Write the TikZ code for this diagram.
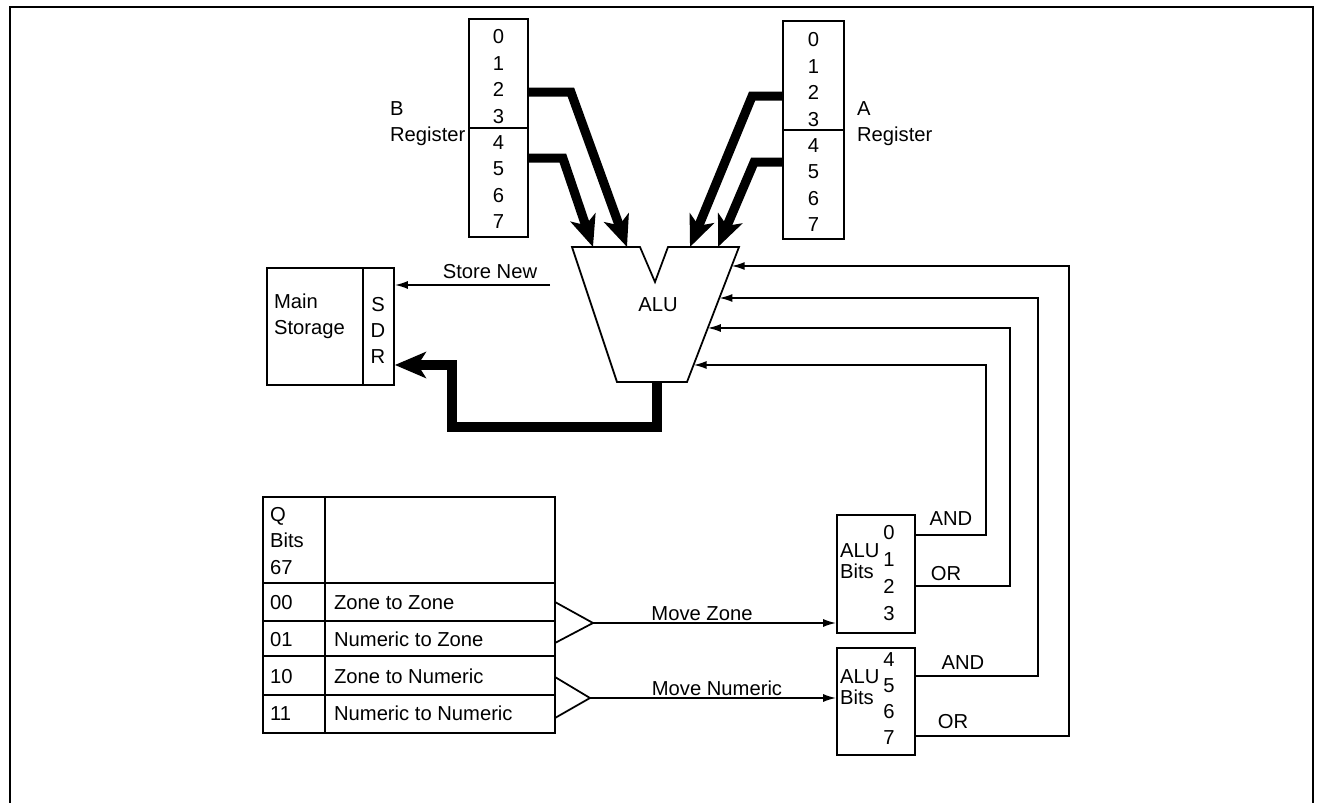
\documentclass[tikz,border=0pt]{standalone}
\usepackage{fontspec}
\setsansfont{Liberation Sans}
\usepackage{tikz}
\usetikzlibrary{arrows.meta, positioning, calc}

\begin{document}
\begin{tikzpicture}[x=0.02cm, y=-0.02cm,
  every node/.style={font=\sffamily\fontsize{11.5}{15}\selectfont}]
\tikzstyle{regbox}=[rectangle, draw, line width=1pt, minimum width=1.18cm,
  minimum height=4.36cm, inner sep=0pt]
\tikzstyle{bitbox}=[rectangle, draw, line width=1pt, minimum width=1.56cm, inner sep=0pt]
\tikzstyle{bus}=[line width=5.2pt, line join=miter,
  -{Stealth[length=0.62cm, width=0.52cm, inset=0.16cm]}]
\tikzstyle{feed}=[line width=0.9pt, -{Latex[length=0.26cm, width=0.16cm]}]
\tikzstyle{txt}=[inner sep=1pt, align=left]
\useasboundingbox (0,0) rectangle (1319,803);
% frame
\draw[line width=1.2pt] (10,815) -- (10,7) -- (1313,7) -- (1313,815);

% registers
\node[regbox] (breg) at (498.5,128) {};
\node[regbox, minimum width=1.22cm] (areg) at (813.5,130) {};
\draw[line width=1pt] (breg.west) -- (breg.east);
\draw[line width=1pt] (areg.west) -- (areg.east);
\foreach \i in {0,...,7} {
  \node (b\i) at (498.5,{37+26.4*\i}) {\i};
  \node (a\i) at (813.5,{40+26.4*\i}) {\i};
}
\node[txt, anchor=west] (blab) at (388,123.5) {B\\Register};
\node[txt, anchor=west] (alab) at (855,123.5) {A\\Register};

% ALU
\draw[line width=1pt] (572,247) -- (640,247) -- (655,282) -- (668,247) -- (739,247)
  -- (687,382) -- (617,382) -- cycle;
\node (alu) at (658,305) {ALU};
\coordinate (alu-b1) at (593,247);
\coordinate (alu-b2) at (627,247);
\coordinate (alu-a1) at (690,247);
\coordinate (alu-a2) at (718,247);
\coordinate (alu-in0) at (731.7,266);
\coordinate (alu-in1) at (719.4,298);
\coordinate (alu-in2) at (707.8,328);
\coordinate (alu-in3) at (693.6,365);
\coordinate (alu-out) at (657,382);

\draw[bus] ($(breg.north east)+(0,74)$) -- ++(42,0) -- (alu-b2);
\draw[bus] ($(breg.north east)+(0,140)$) -- ++(34,0) -- (alu-b1);
\draw[bus] ($(areg.north west)+(0,76)$) -- ++(-30,0) -- (alu-a1);
\draw[bus] ($(areg.north west)+(0,142)$) -- ++(-28,0) -- (alu-a2);

% main storage
\node[rectangle, draw, line width=1pt, minimum width=2.54cm, minimum height=2.34cm,
  inner sep=0pt] (ms) at (330.5,326.5) {};
\draw[line width=0.8pt] ($(ms.north east)+(-32,0)$) -- ($(ms.south east)+(-32,0)$);
\node[txt, anchor=west] (mslab) at (272,316.5) {Main\\Storage};
\node[txt, align=center] (sdr) at (378,330.5) {S\\D\\R};
\coordinate (sn) at (550,285);
\draw[feed] (sn) -- (ms.east |- sn);
\node (snlab) at (490,272) {Store New};
\draw[bus] (alu-out) -- (657,427) -- (452,427) -- (452,365) -- (ms.east |- 0,365);

% Q bits table
\draw[line width=1pt] (263,497) rectangle (555,733);
\foreach \y in {583,621,656,695}
  \draw[line width=1pt] (263,\y) -- (555,\y);
\draw[line width=1.2pt] (325,497) -- (325,733);
\node[txt, anchor=west] (qhead) at (268,541) {Q\\Bits\\67};
\foreach \c/\t [count=\k] in {00/Zone to Zone, 01/Numeric to Zone,
    10/Zone to Numeric, 11/Numeric to Numeric} {
  \node[txt, anchor=west] (q\k) at (268,{603+36.7*(\k-1)}) {\c};
  \node[txt, anchor=west] (m\k) at (332,{603+36.7*(\k-1)}) {\t};
}
\draw[line width=1pt] (555,602) -- (593,623) coordinate (mz) -- (555,643);
\draw[line width=1pt] (555,677) -- (590,698) coordinate (mn) -- (555,718);

% ALU bits
\node[bitbox, minimum height=2.36cm] (bits1) at (876,574) {};
\node[bitbox, minimum height=2.14cm] (bits2) at (876,701.5) {};
\node[txt, anchor=west] (bl1) at (838,561) {ALU\\[-3pt]Bits};
\node[txt, anchor=west] (bl2) at (838,687) {ALU\\[-3pt]Bits};
\foreach \i in {0,...,3}
  \node (d\i) at (889,{533+26.7*\i}) {\i};
\foreach \i in {4,...,7}
  \node (d\i) at (889,{660+26*(\i-4)}) {\i};

\draw[feed] (mz) -- (bits1.west |- mz);
\draw[feed] (mn) -- (bits2.west |- mn);
\node[anchor=base, inner sep=0pt] (mzlab) at (702,621) {Move Zone};
\node[anchor=base, inner sep=0pt] (mnlab) at (717,696) {Move Numeric};

% feedback to ALU
\draw[feed] (bits1.east |- 0,535) -- (986,535) -- (986,365) -- (alu-in3);
\draw[feed] (bits1.east |- 0,586) -- (1010,586) -- (1010,328) -- (alu-in2);
\draw[feed] (bits2.east |- 0,676) -- (1038,676) -- (1038,298) -- (alu-in1);
\draw[feed] (bits2.east |- 0,736) -- (1069,736) -- (1069,266) -- (alu-in0);
\node (and1) at (951,519) {AND};
\node (or1) at (946,574) {OR};
\node (and2) at (963,663) {AND};
\node (or2) at (953,722) {OR};
\end{tikzpicture}
\end{document}
